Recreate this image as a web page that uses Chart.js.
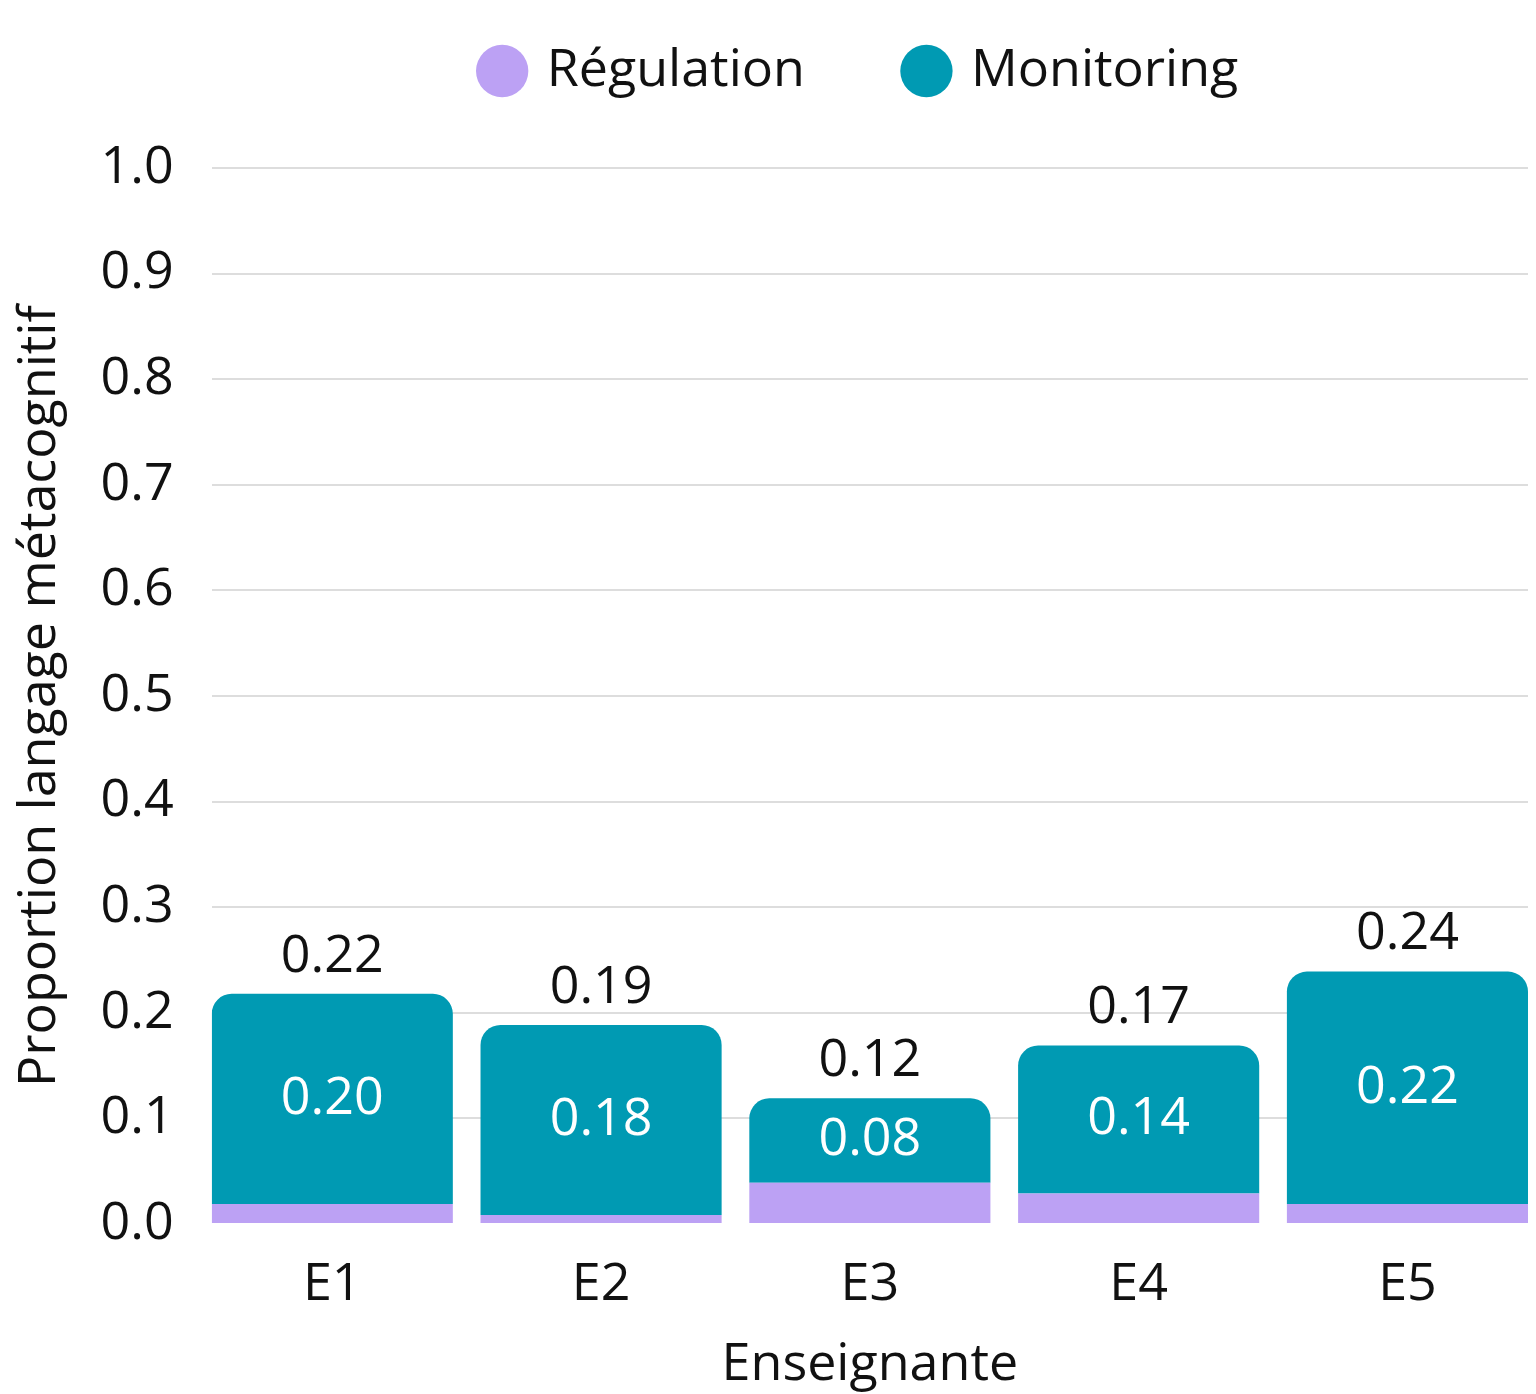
<!DOCTYPE html>
<html lang="fr">
<head>
<meta charset="utf-8">
<title>Proportion langage métacognitif</title>
<script src="https://cdn.jsdelivr.net/npm/chart.js@4.4.1/dist/chart.umd.min.js"></script>
<style>
  html, body { margin: 0; padding: 0; background: #fff; }
  #wrap { width: 1536px; height: 1394px; position: relative; }
</style>
</head>
<body>
<div id="wrap"><canvas id="chart"></canvas></div>
<script>
// données
const TEACHERS = ["E1", "E2", "E3", "E4", "E5"];
const REGULATION = [0.019, 0.0085, 0.039, 0.029, 0.019];
const MONITORING = [0.199, 0.180, 0.080, 0.140, 0.220];
const Y_TICKS = [0.0, 0.1, 0.2, 0.3, 0.4, 0.5, 0.6, 0.7, 0.8, 0.9, 1.0];

const BAR_PCT = 0.897;

Chart.defaults.font.family = '"Open Sans", sans-serif';
Chart.defaults.font.size = 52;
Chart.defaults.color = "#111";

// espace sous la légende + recentrage horizontal
const legendSpacing = {
  id: "legendSpacing",
  beforeInit(chart) {
    const origFit = chart.legend.fit;
    chart.legend.fit = function () {
      origFit.call(this);
      this.height += 61;
    };
  },
  afterLayout(chart) {
    chart.legend.left += 97;
    chart.legend.right += 97;
  },
};

// étiquettes : monitoring au centre, total au-dessus
const valueLabels = {
  id: "valueLabels",
  afterDatasetsDraw(chart) {
    const { ctx } = chart;
    const meta = chart.getDatasetMeta(1);
    ctx.save();
    ctx.font = '52px "Open Sans"';
    ctx.textAlign = "center";
    ctx.textBaseline = "middle";
    meta.data.forEach((bar, i) => {
      ctx.fillStyle = "#fff";
      ctx.fillText(MONITORING[i].toFixed(2), bar.x, (bar.y + bar.base) / 2);
      ctx.fillStyle = "#111";
      ctx.fillText((REGULATION[i] + MONITORING[i]).toFixed(2), bar.x, bar.y - 37);
    });
    ctx.restore();
  },
};

const toPoints = (arr) => arr.map((v, i) => ({ x: i, y: v }));

new Chart(document.getElementById("chart"), {
  type: "bar",
  data: {
    datasets: [
      {
        label: "Régulation",
        data: toPoints(REGULATION),
        backgroundColor: "#bca1f4",
        borderWidth: 0,
        categoryPercentage: 1,
        barPercentage: BAR_PCT,
      },
      {
        label: "Monitoring",
        data: toPoints(MONITORING),
        backgroundColor: "#009ab3",
        borderWidth: 0,
        borderRadius: 20,
        categoryPercentage: 1,
        barPercentage: BAR_PCT,
      },
    ],
  },
  options: {
    responsive: true,
    maintainAspectRatio: false,
    animation: false,
    layout: { padding: { top: -58, right: 8, bottom: 0, left: 0 } },
    scales: {
      x: {
        type: "linear",
        stacked: true,
        offset: false,
        min: -BAR_PCT / 2,
        max: TEACHERS.length - 1 + BAR_PCT / 2,
        afterBuildTicks: (axis) => {
          axis.ticks = TEACHERS.map((_, i) => ({ value: i }));
        },
        grid: { display: false, drawTicks: false },
        border: { display: false },
        ticks: {
          padding: 30,
          maxRotation: 0,
          autoSkip: false,
          callback: (v) => TEACHERS[v],
        },
        title: {
          display: true,
          text: "Enseignante",
          font: { size: 52, lineHeight: 0.723 },
          padding: { top: 0, bottom: 10 },
        },
      },
      y: {
        stacked: true,
        min: 0,
        max: 1,
        afterBuildTicks: (axis) => {
          axis.ticks = Y_TICKS.map((v) => ({ value: v }));
        },
        grid: {
          drawTicks: false,
          lineWidth: 2,
          color: (c) => (c.tick && c.tick.value === 0 ? "rgba(0,0,0,0)" : "#dddddd"),
        },
        border: { display: false },
        ticks: {
          padding: 38,
          callback: (v) => v.toFixed(1),
        },
        title: {
          display: true,
          text: "Proportion langage métacognitif",
          font: { size: 52, lineHeight: 0.877 },
          padding: { top: 17, bottom: 0 },
        },
      },
    },
    plugins: {
      legend: {
        position: "top",
        labels: {
          usePointStyle: true,
          pointStyle: "circle",
          boxWidth: 37,
          boxHeight: 37,
          padding: 103,
          font: { size: 52 },
          color: "#111",
        },
      },
      tooltip: { enabled: false },
    },
  },
  plugins: [legendSpacing, valueLabels],
});
</script>
</body>
</html>
